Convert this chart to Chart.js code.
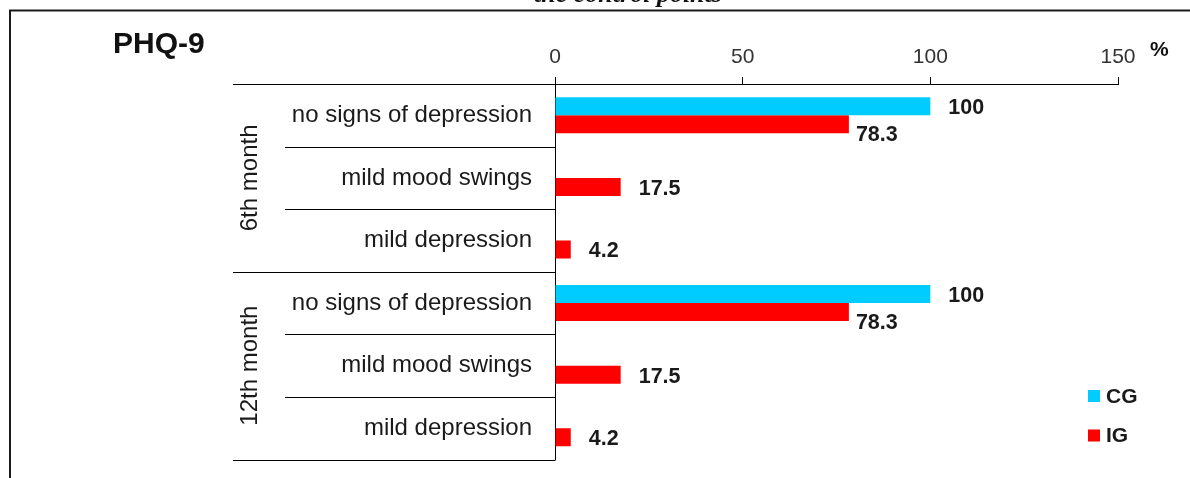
<!DOCTYPE html>
<html>
<head>
<meta charset="utf-8">
<script src="https://cdn.jsdelivr.net/npm/chart.js@4.4.1/dist/chart.umd.min.js"></script>
<style>
html,body{margin:0;padding:0;background:#fff;}
canvas{display:block;}
</style>
</head>
<body>
<canvas id="c" width="1190" height="478"></canvas>
<script>
const categories = ['no signs of depression','mild mood swings','mild depression','no signs of depression','mild mood swings','mild depression'];
const groups = ['6th month','12th month'];
const seriesNames = ['CG','IG'];
const cgValues = [100, null, null, 100, null, null];
const igValues = [78.3, 17.5, 4.2, 78.3, 17.5, 4.2];
const xTicks = [0, 50, 100, 150];

const SANS = "'Liberation Sans', Arial, sans-serif";

const overlay = {
  id: 'overlay',
  afterDraw(chart) {
    const {ctx, scales: {x, y}, chartArea} = chart;
    ctx.save();
    // outer frame
    ctx.strokeStyle = '#1a1a1a';
    ctx.lineWidth = 2;
    ctx.beginPath();
    ctx.moveTo(10, 478); ctx.lineTo(10, 10.5); ctx.lineTo(1190, 10.5);
    ctx.stroke();

    // cut-off caption above the frame
    ctx.fillStyle = '#111';
    ctx.font = "bold italic 26px 'Liberation Serif', serif";
    ctx.textAlign = 'center';
    ctx.textBaseline = 'alphabetic';
    ctx.fillText('the control points', 628, 2);

    // title
    ctx.font = 'bold 30px ' + SANS;
    ctx.textAlign = 'left';
    ctx.fillText('PHQ-9', 113, 53);

    // unit
    ctx.font = 'bold 21px ' + SANS;
    ctx.fillText('%', 1150, 56);

    // category separators in label area
    const n = categories.length;
    const gs = n / groups.length;
    ctx.strokeStyle = '#000';
    ctx.lineWidth = 1;
    const axisX = Math.round(chartArea.left) + 0.5;
    for (let i = 0; i <= n; i++) {
      const py = Math.round(y.getPixelForValue(i - 0.5)) + 0.5;
      const startX = (i % gs === 0) ? chartArea.left - 322 : chartArea.left - 270;
      ctx.beginPath();
      ctx.moveTo(startX, py);
      ctx.lineTo(axisX, py);
      ctx.stroke();
    }

    // group labels
    ctx.font = '24px ' + SANS;
    ctx.fillStyle = '#1a1a1a';
    ctx.textAlign = 'center';
    ctx.textBaseline = 'middle';
    groups.forEach((g, gi) => {
      const top = y.getPixelForValue(gi * gs - 0.5);
      const bot = y.getPixelForValue((gi + 1) * gs - 0.5);
      ctx.save();
      ctx.translate(chartArea.left - 305, (top + bot) / 2);
      ctx.rotate(-Math.PI / 2);
      ctx.fillText(g, 0, 0);
      ctx.restore();
    });

    // value labels
    ctx.font = 'bold 21.5px ' + SANS;
    ctx.fillStyle = '#1a1a1a';
    ctx.textAlign = 'left';
    ctx.textBaseline = 'middle';
    chart.data.datasets.forEach((ds, di) => {
      const meta = chart.getDatasetMeta(di);
      meta.data.forEach((el, i) => {
        const v = ds.data[i];
        if (v === null || v === undefined) return;
        let lx = el.x + 18, ly = el.y + 2;
        if (di === 1 && cgValues[i] !== null && cgValues[i] > v) {
          lx = el.x + 7; ly = el.y + 11;
        }
        ctx.fillText(String(v), lx, ly);
      });
    });

    // legend
    const lx = 1088;
    const ly0 = 390;
    chart.data.datasets.forEach((ds, di) => {
      const yy = ly0 + di * 39.5;
      ctx.fillStyle = ds.backgroundColor;
      ctx.fillRect(lx, yy, 12, 12);
      ctx.fillStyle = '#1a1a1a';
      ctx.font = 'bold 21px ' + SANS;
      ctx.textBaseline = 'middle';
      ctx.fillText(ds.label, lx + 18, yy + 7);
    });
    ctx.restore();
  }
};

new Chart(document.getElementById('c'), {
  type: 'bar',
  data: {
    labels: categories,
    datasets: [
      { label: seriesNames[0], data: cgValues, backgroundColor: '#00CCFF' },
      { label: seriesNames[1], data: igValues, backgroundColor: '#FF0000' }
    ]
  },
  options: {
    indexAxis: 'y',
    responsive: false,
    animation: false,
    devicePixelRatio: 1,
    categoryPercentage: 0.576,
    barPercentage: 1,
    layout: { padding: { left: 0, top: 0, right: 72, bottom: 18.5 } },
    plugins: { legend: { display: false }, tooltip: { enabled: false } },
    scales: {
      x: {
        position: 'top',
        min: 0, max: 150,
        afterBuildTicks: s => { s.ticks = xTicks.map(v => ({ value: v })); },
        afterFit: s => { s.height = 84; s.paddingTop = 0; s.paddingBottom = 0; s.paddingLeft = 0; s.paddingRight = 0; },
        ticks: { font: { family: SANS, size: 21 }, color: '#333', padding: 7 },
        grid: { drawOnChartArea: false, drawTicks: true, tickLength: 7, color: '#000' },
        border: { display: true, color: '#000', width: 1 }
      },
      y: {
        position: 'left',
        afterFit: s => { s.width = 555; s.paddingTop = 0; s.paddingBottom = 0; s.paddingLeft = 0; s.paddingRight = 0; },
        ticks: { font: { family: SANS, size: 24 }, color: '#1a1a1a', padding: 23 },
        grid: { display: false, drawTicks: false },
        border: { display: true, color: '#000', width: 1 }
      }
    }
  },
  plugins: [overlay]
});
</script>
</body>
</html>
